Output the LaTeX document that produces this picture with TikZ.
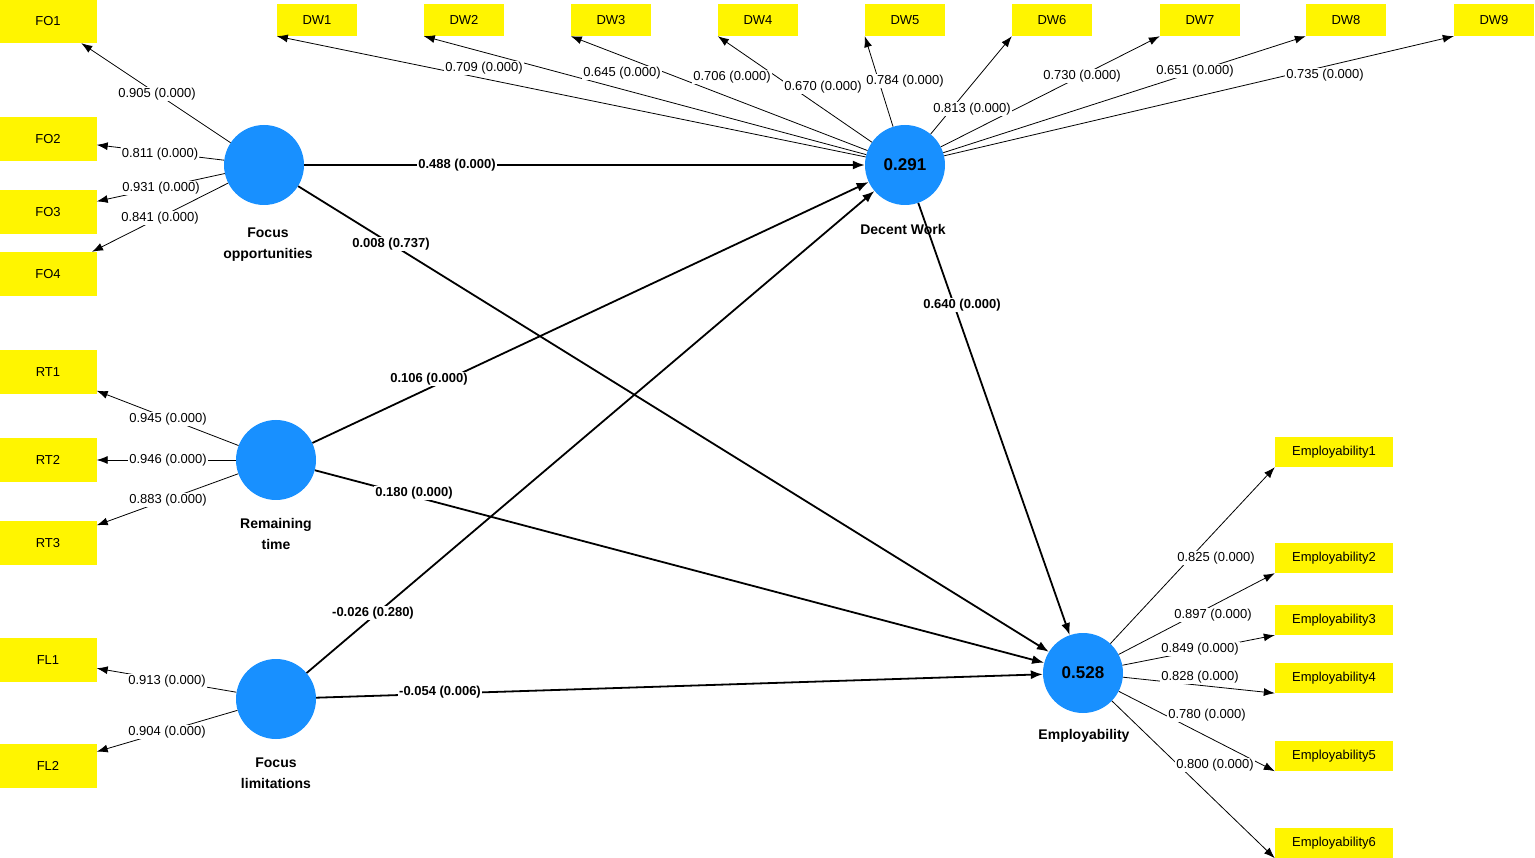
\documentclass[tikz,border=0pt]{standalone}
\usepackage{fontspec}
\setmainfont{Liberation Sans}
\usetikzlibrary{arrows.meta}
\definecolor{cblue}{RGB}{24,144,255}
\definecolor{cyel}{RGB}{255,245,0}
\begin{document}
\begin{tikzpicture}[x=1pt,y=-1pt,
  lv/.style={circle,fill=cblue,minimum size=80pt,inner sep=0pt,font=\fontsize{17}{19}\selectfont\bfseries},
  ind/.style={fill=cyel,minimum width=97pt,minimum height=44pt,inner sep=0pt,font=\fontsize{13}{15}\selectfont},
  dw/.style={fill=cyel,minimum width=80pt,minimum height=32pt,inner sep=0pt,font=\fontsize{13}{15}\selectfont},
  em/.style={fill=cyel,minimum width=118pt,minimum height=30pt,inner sep=0pt,font=\fontsize{13}{15}\selectfont},
  arr/.style={-{Latex[length=11pt,width=8pt]},line width=0.8pt},
  parr/.style={-{Latex[length=12pt,width=9pt]},line width=1.8pt},
  ll/.style={fill=white,inner sep=1pt,font=\fontsize{13}{15}\selectfont},
  pl/.style={fill=white,inner sep=1pt,font=\fontsize{13}{15}\selectfont\bfseries},
  nm/.style={align=center,font=\fontsize{14}{21}\selectfont\bfseries}]
\useasboundingbox (0,0) rectangle (1535,858);
% latent variables
\node[lv] (FOc) at (264,165) {};
\node[lv] (DWc) at (905,165) {0.291};
\node[lv] (RTc) at (276,460) {};
\node[lv] (FLc) at (276,699) {};
\node[lv] (EMc) at (1083,673) {0.528};
\node[nm] (nFO) at (268,245) {Focus\\opportunities};
\node[nm] (nDW) at (903,229) {Decent Work};
\node[nm] (nRT) at (276,534) {Remaining\\time};
\node[nm] (nFL) at (276,773) {Focus\\limitations};
\node[nm] (nEM) at (1084,736) {Employability};
% indicators
\node[ind] (FO1) at (48,21) {FO1};
\node[ind] (FO2) at (48,139) {FO2};
\node[ind] (FO3) at (48,212) {FO3};
\node[ind] (FO4) at (48,274) {FO4};
\node[ind] (RT1) at (48,372) {RT1};
\node[ind] (RT2) at (48,460) {RT2};
\node[ind] (RT3) at (48,543) {RT3};
\node[ind] (FL1) at (48,660) {FL1};
\node[ind] (FL2) at (48,766) {FL2};
\foreach \i/\x in {1/317,2/464,3/611,4/758,5/905,6/1052,7/1200,8/1346,9/1494}
  \node[dw] (DW\i) at (\x,20) {DW\i};
\foreach \i/\y in {1/452,2/558,3/620,4/678,5/756,6/843}
  \node[em] (EM\i) at (1334,\y) {Employability\i};
% loadings
\foreach \t in {FO1,FO2,FO3,FO4} \draw[arr] (FOc) -- (\t);
\foreach \t in {RT1,RT2,RT3} \draw[arr] (RTc) -- (\t);
\foreach \t in {FL1,FL2} \draw[arr] (FLc) -- (\t);
\foreach \i in {1,...,9} \draw[arr] (DWc) -- (DW\i.south west);
\foreach \i in {1,...,6} \draw[arr] (EMc) -- (EM\i.south west);
\foreach \t/\x/\y in {0.905/157/94,0.811/160/154,0.931/161/188,0.841/160/218,
  0.945/168/419,0.946/168/460,0.883/168/500,0.913/167/681,0.904/167/732,
  0.709/484/68,0.645/622/73,0.706/732/77,0.670/823/87,0.784/905/81,0.813/972/109,
  0.730/1082/76,0.651/1195/71,0.735/1325/75,
  0.825/1216/558,0.897/1213/615,0.849/1200/649,0.828/1200/677,0.780/1207/715,0.800/1215/765}
  \node[ll] at (\x,\y) {\t{} (0.000)};
% paths
\draw[parr] (FOc) -- (DWc);
\draw[parr] (FOc) -- (EMc);
\draw[parr] (RTc) -- (DWc);
\draw[parr] (RTc) -- (EMc);
\draw[parr] (FLc) -- (DWc);
\draw[parr] (FLc) -- (EMc);
\draw[parr] (DWc) -- (EMc);
\node[pl] at (457,165) {0.488 (0.000)};
\node[pl] at (391,244) {0.008 (0.737)};
\node[pl] at (429,379) {0.106 (0.000)};
\node[pl] at (414,493) {0.180 (0.000)};
\node[pl] at (373,613) {-0.026 (0.280)};
\node[pl] at (440,692) {-0.054 (0.006)};
\node[pl] at (962,305) {0.640 (0.000)};
\end{tikzpicture}
\end{document}
